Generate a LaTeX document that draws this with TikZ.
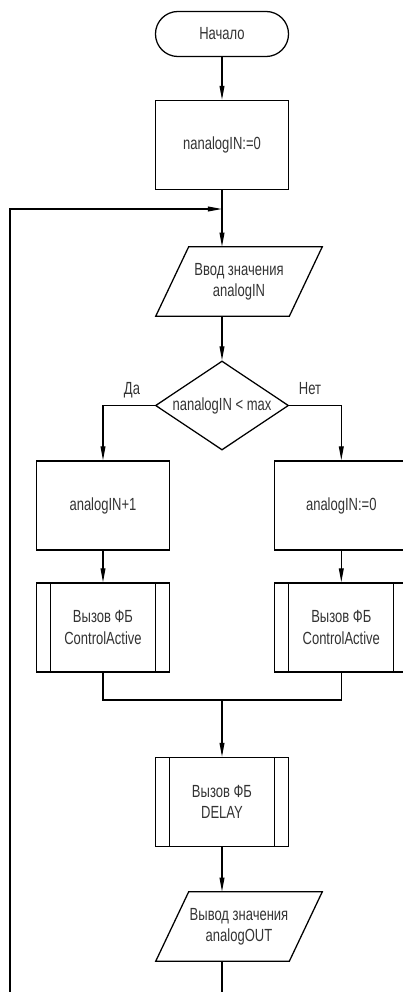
\documentclass[tikz,border=0pt]{standalone}
\usepackage{fontspec}
\setmainfont{Liberation Sans}[FakeStretch=0.74]
\usetikzlibrary{arrows.meta,shapes.geometric}
\tikzset{
  line/.style={line width=0.9pt},
  arr/.style={line,-{Triangle[length=10pt,width=3.4pt]}},
  txt/.style={text=black!80,font=\fontsize{12.5}{15}\selectfont,align=center},
  term/.style={draw,line,txt,rounded corners=0.56cm,minimum width=3.325cm,minimum height=1.125cm,inner sep=0pt},
  proc/.style={draw,line,txt,minimum width=3.325cm,minimum height=2.225cm,inner sep=0pt},
  subproc/.style={proc,path picture={
    \draw[line] ([xshift=0.35cm]path picture bounding box.north west) -- ([xshift=0.35cm]path picture bounding box.south west);
    \draw[line] ([xshift=-0.35cm]path picture bounding box.north east) -- ([xshift=-0.35cm]path picture bounding box.south east);}},
  io/.style={txt,minimum width=3.325cm,minimum height=1.725cm,inner sep=0pt,
    append after command={\pgfextra{\draw[line] ([xshift=-0.4125cm]\tikzlastnode.south west) -- ([xshift=0.4125cm]\tikzlastnode.north west)
      -- ([xshift=0.4125cm]\tikzlastnode.north east) -- ([xshift=-0.4125cm]\tikzlastnode.south east) -- cycle;}}},
  decision/.style={draw,line,txt,diamond,aspect=1.5,minimum width=3.325cm,minimum height=2.225cm,inner sep=0pt},
}
\begin{document}
\begin{tikzpicture}[x=0.025cm,y=-0.025cm]
\useasboundingbox (0,0) rectangle (402,992);
\node[term] (start) at (222,34) {Начало};
\node[proc] (init) at (222,145) {nanalogIN:=0};
\node[io] (in) at (239,281.5) {Ввод значения\\analogIN};
\node[decision] (cond) at (222,405.5) {nanalogIN < max};
\node[txt] (yes) at (132,390) {Да};
\node[txt] (no) at (310,389) {Нет};
\node[proc] (inc) at (103,505.5) {analogIN+1};
\node[proc] (reset) at (341.3,505.5) {analogIN:=0};
\node[subproc] (fbL) at (103,627.5) {Вызов ФБ\\ControlActive};
\node[subproc] (fbR) at (341.3,627.5) {Вызов ФБ\\ControlActive};
\node[subproc] (delay) at (222,802) {Вызов ФБ\\DELAY};
\node[io] (out) at (239,926.5) {Вывод значения\\analogOUT};
\coordinate (merge) at (222,209);
\coordinate (join) at (222,700);
\coordinate (back) at (10,992);
\coordinate (down) at (222,992);
% main line
\draw[arr] (start) -- (init);
\draw[arr] (init) -- (init.south |- in.north);
\draw[arr] (back) |- (merge);
\draw[arr] (cond.north |- in.south) -- (cond);
\draw[arr] (cond.west) -| (inc);
\draw[arr] (cond.east) -| (reset);
\draw[arr] (inc) -- (fbL);
\draw[arr] (reset) -- (fbR);
\draw[line] (fbL.south) |- (join) -| (fbR.south);
\draw[arr] (join) -- (delay);
\draw[arr] (delay) -- (delay.south |- out.north);
\draw[line] (down |- out.south) -- (down);
\end{tikzpicture}
\end{document}
